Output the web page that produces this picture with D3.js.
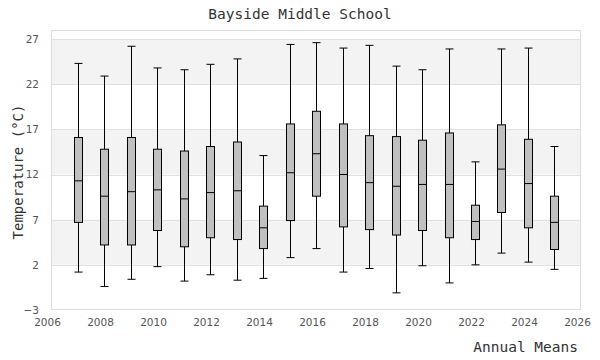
<!DOCTYPE html>
<html><head><meta charset="utf-8">
<script src="https://cdn.jsdelivr.net/npm/d3@7"></script>
<style>body{margin:0;background:#fff}</style>
</head><body>
<svg id="chart" width="600" height="360"></svg>
<script>
const years = [2007,2008,2009,2010,2011,2012,2013,2014,2015,2016,2017,2018,2019,2020,2021,2022,2023,2024,2025];
const whiskerLow  = [1.2,-0.4,0.4,1.8,0.2,0.9,0.3,0.5,2.8,3.8,1.2,1.6,-1.1,1.9,0.0,2.0,3.3,2.3,1.5];
const q1          = [6.7,4.2,4.2,5.8,4.0,5.0,4.8,3.8,6.9,9.6,6.2,5.9,5.3,5.8,5.0,4.8,7.8,6.1,3.7];
const median      = [11.3,9.6,10.1,10.3,9.3,10.0,10.2,6.1,12.2,14.3,12.0,11.1,10.7,10.9,10.9,6.8,12.6,11.0,6.7];
const q3          = [16.1,14.8,16.1,14.8,14.6,15.1,15.6,8.5,17.6,19.0,17.6,16.3,16.2,15.8,16.6,8.6,17.5,15.9,9.6];
const whiskerHigh = [24.3,22.9,26.2,23.8,23.6,24.2,24.8,14.1,26.4,26.6,26.0,26.3,24.0,23.6,25.9,13.4,25.9,26.0,15.1];
const yTicks = [-3,2,7,12,17,22,27];
const xTicks = [2006,2008,2010,2012,2014,2016,2018,2020,2022,2024,2026];
const title = "Bayside Middle School";
const xTitle = "Annual Means";
const yTitle = "Temperature (°C)";

const svg = d3.select("#chart");
const m = {l:51, r:19, t:30, b:50};
const W = 600, H = 360;
const x = d3.scaleLinear().domain([2006,2026]).range([m.l, W-m.r]);
const y = d3.scaleLinear().domain([-3,28]).range([H-m.b, m.t]);
const mono = "'DejaVu Sans Mono', monospace";
const sans = "'DejaVu Sans', sans-serif";

// bands
for (let i = 0; i < yTicks.length-1; i++) {
  const lo = yTicks[i], hi = yTicks[i+1];
  if (i % 2 === 1) {
    svg.append("rect").attr("x", m.l).attr("width", W-m.r-m.l)
      .attr("y", y(hi)).attr("height", y(lo)-y(hi)).attr("fill", "#f3f3f3");
  }
}
// gridlines
svg.append("g").selectAll("line").data(yTicks.slice(1)).join("line")
  .attr("x1", m.l).attr("x2", W-m.r)
  .attr("y1", d => Math.round(y(d))+0.5).attr("y2", d => Math.round(y(d))+0.5)
  .attr("stroke", "#e0e0e0").attr("stroke-width", 1);
// frame
svg.append("rect").attr("x", m.l+0.5).attr("y", m.t+0.5)
  .attr("width", W-m.r-m.l-1).attr("height", H-m.b-m.t-1)
  .attr("fill", "none").attr("stroke", "#dddddd");

// axes
const yAxis = svg.append("g").attr("transform", `translate(${m.l},0)`)
  .call(d3.axisLeft(y).tickValues(yTicks).tickSize(0).tickPadding(12));
const xAxis = svg.append("g").attr("transform", `translate(-4,${H-m.b})`)
  .call(d3.axisBottom(x).tickValues(xTicks).tickFormat(d3.format("d")).tickSize(0).tickPadding(9));
[yAxis, xAxis].forEach(g => {
  g.select(".domain").remove();
  g.selectAll("text").attr("fill", "#555").style("font-family", sans).style("font-size", "10.5px");
});

// boxes
const bw = 8;
const g = svg.append("g").attr("stroke", "#000").attr("stroke-width", 1);
years.forEach((yr, i) => {
  const cx = Math.round(x(yr)) + 0.5;
  g.append("line").attr("x1", cx).attr("x2", cx).attr("y1", y(whiskerHigh[i])).attr("y2", y(q3[i]));
  g.append("line").attr("x1", cx).attr("x2", cx).attr("y1", y(q1[i])).attr("y2", y(whiskerLow[i]));
  g.append("line").attr("x1", cx-bw/2).attr("x2", cx+bw/2).attr("y1", y(whiskerHigh[i])).attr("y2", y(whiskerHigh[i]));
  g.append("line").attr("x1", cx-bw/2).attr("x2", cx+bw/2).attr("y1", y(whiskerLow[i])).attr("y2", y(whiskerLow[i]));
  g.append("rect").attr("x", cx-bw/2).attr("width", bw)
    .attr("y", y(q3[i])).attr("height", y(q1[i])-y(q3[i])).attr("fill", "#c0c0c0");
  g.append("line").attr("x1", cx-bw/2).attr("x2", cx+bw/2).attr("y1", y(median[i])).attr("y2", y(median[i]));
});

// titles
svg.append("text").attr("x", 300).attr("y", 19).attr("text-anchor", "middle")
  .style("font-family", mono).style("font-size", "14.5px").attr("fill", "#333").text(title);
svg.append("text").attr("x", 578).attr("y", 352).attr("text-anchor", "end")
  .style("font-family", mono).style("font-size", "14.5px").attr("fill", "#333").text(xTitle);
svg.append("text").attr("transform", "translate(23,172) rotate(-90)").attr("text-anchor", "middle")
  .style("font-family", mono).style("font-size", "14px").attr("fill", "#333").text(yTitle);
</script>
</body></html>
